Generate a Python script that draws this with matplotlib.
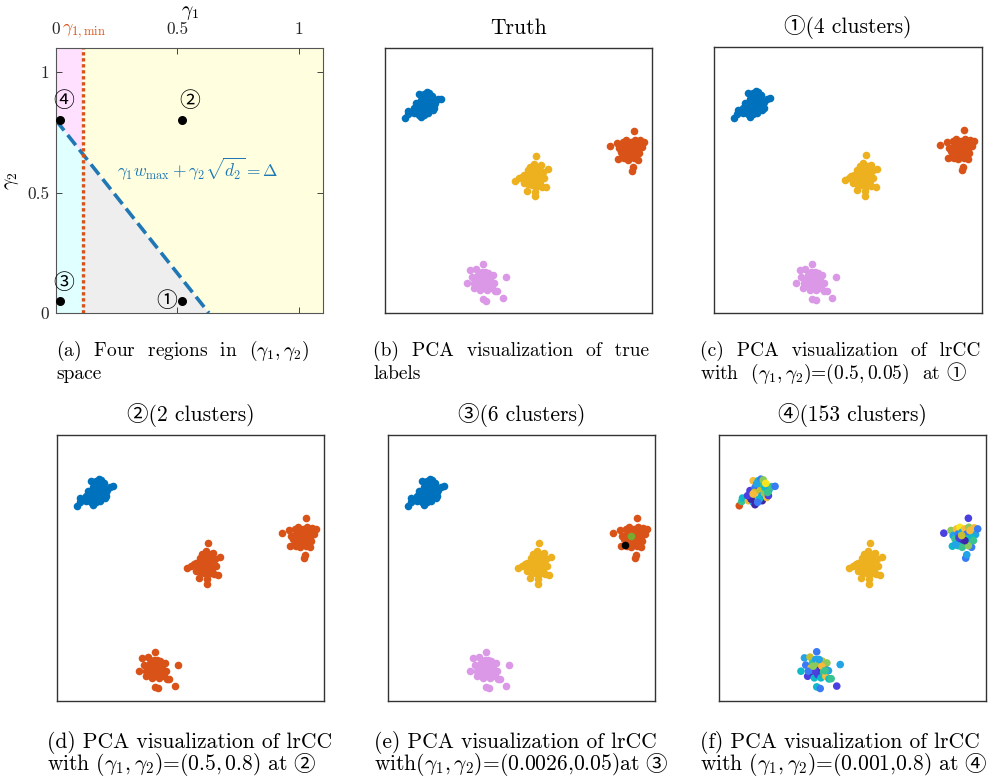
import matplotlib
matplotlib.use("Agg")
import matplotlib.pyplot as plt
import numpy as np

plt.rcParams['font.family'] = ['cmr10', 'Noto Sans CJK JP', 'DejaVu Sans']
plt.rcParams['mathtext.fontset'] = 'cm'
plt.rcParams['axes.unicode_minus'] = False

# ---- panel (a): regions in (gamma1, gamma2) space
g1_min = 0.11          # dotted vertical boundary
line_y0 = 0.8          # dashed line intercept on gamma2 axis
line_x0 = 0.63         # dashed line intercept on gamma1 axis
pts_g1 = [0.52, 0.52, 0.015, 0.015]
pts_g2 = [0.05, 0.8, 0.05, 0.8]
pts_tag = ['①', '②', '③', '④']
tag_g1 = [0.455, 0.55, 0.03, 0.03]
tag_g2 = [0.05, 0.88, 0.125, 0.88]

# ---- PCA scatter data (cluster centroids + point offsets, PC units)
centers = {
    'blue': (1.41, 7.78),
    'orange': (9.15, 6.18),
    'yellow': (5.57, 5.14),
    'lavender': (3.66, 1.22),
}
blue_dx = [-0.65, -0.56, -0.53, -0.31, -0.25, -0.19, -0.13, -0.13, -0.06, -0.06, 0.0, 0.04,
           0.06, 0.09, 0.13, 0.16, 0.19, 0.19, 0.21, 0.29, 0.31, 0.38, 0.44, 0.46,
           0.56, 0.69, -0.09, -0.21, 0.10, 0.25, 0.34, 0.0, -0.34, 0.41, 0.04, -0.13]
blue_dy = [-0.44, -0.28, -0.15, -0.25, 0.13, -0.06, 0.50, -0.31, 0.25, -0.40, -0.13, 0.06,
           0.50, 0.28, 0.15, 0.56, 0.38, -0.06, -0.25, 0.03, 0.25, -0.13, -0.06, 0.15,
           0.28, 0.29, 0.06, -0.19, -0.19, 0.53, 0.40, 0.38, -0.06, 0.06, -0.31, 0.0]
orange_dx = [-0.73, -0.46, -0.38, -0.41, -0.31, -0.25, -0.19, -0.13, -0.09, -0.06, 0.0, 0.04,
             0.06, 0.13, 0.16, 0.19, 0.21, 0.25, 0.31, 0.38, 0.41, 0.46, 0.54, 0.31,
             0.09, 0.13, -0.19, -0.04, 0.19, -0.16, -0.29, 0.25, 0.06, -0.06, 0.38]
orange_dy = [0.13, 0.23, 0.04, -0.36, -0.09, 0.29, 0.10, 0.35, -0.15, 0.16, -0.03, -0.28,
             0.29, 0.10, -0.09, 0.69, 0.35, -0.21, -0.40, 0.16, 0.33, 0.08, 0.29, -0.03,
             -0.81, -0.68, -0.34, -0.40, -0.34, -0.05, -0.30, 0.23, -0.15, 0.04, -0.15]
yellow_dx = [-0.70, -0.54, -0.45, -0.35, -0.38, -0.25, -0.23, -0.20, -0.16, -0.13, -0.10, -0.08,
             -0.04, 0.0, 0.03, 0.05, 0.05, 0.09, 0.09, 0.13, 0.15, 0.18, 0.21, 0.25,
             0.28, 0.30, 0.34, 0.38, 0.46, 0.53, -0.04, 0.09, -0.23, 0.21, -0.10, -0.29]
yellow_dy = [-0.15, -0.06, 0.0, 0.06, -0.25, -0.53, 0.25, -0.06, 0.13, 0.38, -0.19, -0.31,
             0.06, 0.50, -0.13, -0.73, -0.56, 0.79, 0.25, 0.0, -0.31, 0.38, 0.13, -0.19,
             0.44, -0.38, 0.19, -0.06, -0.40, 0.28, 0.25, -0.38, -0.28, -0.06, 0.0, -0.13]
lav_dx = [-0.59, -0.46, -0.41, -0.34, -0.25, -0.21, -0.16, -0.13, -0.09, -0.04, 0.0, 0.0,
          0.04, 0.06, 0.13, 0.16, 0.21, 0.25, 0.29, 0.34, 0.38, 0.44, 0.46, 0.54,
          0.88, 0.75, 0.0, 0.13, -0.19, 0.19, -0.06, 0.09, -0.31, 0.31, -0.13]
lav_dy = [-0.10, 0.40, 0.13, -0.29, 0.43, 0.03, 0.21, -0.16, -0.35, 0.34, 0.63, 0.03,
          -0.23, 0.18, -0.04, -0.35, 0.28, -0.13, 0.09, -0.29, 0.21, -0.08, -0.39, -0.38,
          0.15, -0.66, -0.69, -0.75, -0.04, 0.09, -0.10, 0.34, -0.10, -0.08, 0.09]

offsets = {
    'blue': (blue_dx, blue_dy),
    'orange': (orange_dx, orange_dy),
    'yellow': (yellow_dx, yellow_dy),
    'lavender': (lav_dx, lav_dy),
}

C_BLUE = '#0072BD'
C_ORANGE = '#D95319'
C_YELLOW = '#EDB120'
C_LAV = '#DA98E6'
C_GREEN = '#77AC30'

# colour of each true cluster in each panel
panel_colors = {
    'b': {'blue': C_BLUE, 'orange': C_ORANGE, 'yellow': C_YELLOW, 'lavender': C_LAV},
    'c': {'blue': C_BLUE, 'orange': C_ORANGE, 'yellow': C_YELLOW, 'lavender': C_LAV},
    'd': {'blue': C_BLUE, 'orange': C_ORANGE, 'yellow': C_ORANGE, 'lavender': C_ORANGE},
    'e': {'blue': C_BLUE, 'orange': C_ORANGE, 'yellow': C_YELLOW, 'lavender': C_LAV},
}
# (e): two orange points split off into their own clusters
e_black_idx = 30
e_green_idx = 33

# (f): many tiny clusters, colours from a parula-like palette
parula = ['#3E26A8', '#4A3FE0', '#3A7BF5', '#22A4E6', '#0FBAC8', '#38C391',
          '#8CCA5A', '#C8BF30', '#F7BA3C', '#F8E51E', '#D95319']
f_blue_lab = [10, 5, 4, 8, 1, 7, 8, 3, 2, 0, 6, 9, 4, 1, 7, 2, 5, 3,
              0, 6, 4, 8, 1, 3, 5, 2, 7, 0, 4, 6, 9, 3, 1, 5, 2, 8]
f_orange_lab = [1, 6, 3, 4, 5, 8, 2, 9, 0, 3, 9, 1, 8, 2, 5, 1, 6, 4,
                2, 7, 8, 3, 2, 4, 2, 3, 4, 5, 6, 1, 3, 8, 0, 7, 5]
f_lav_lab = [4, 3, 2, 1, 7, 8, 5, 0, 4, 3, 2, 3, 1, 6, 0, 4, 7, 5,
             1, 8, 6, 3, 4, 5, 3, 1, 4, 2, 9, 8, 1, 3, 2, 5, 6]

fig = plt.figure(figsize=(9.98, 7.77), dpi=100)
W, H = 998.0, 777.0


def px_axes(l, t, r, b):
    return fig.add_axes([l / W, 1 - b / H, (r - l) / W, (b - t) / H])


def cluster_xy(name):
    cx, cy = centers[name]
    dx, dy = offsets[name]
    return cx + np.array(dx), cy + np.array(dy)


def style_scatter_ax(ax):
    ax.set_xlim(0, 10)
    ax.set_ylim(0, 10)
    ax.set_xticks([])
    ax.set_yticks([])
    for s in ax.spines.values():
        s.set_color('#333333')
        s.set_linewidth(1.0)


MS = 30

# ---------------- (a)
ax = px_axes(56, 48, 323, 313)
ax_a = ax
yl = line_y0 * (1 - g1_min / line_x0)
ax.fill([0, g1_min, g1_min, 0], [line_y0, yl, 1.1, 1.1], color='#FFE0FF', lw=0)
ax.fill([0, g1_min, g1_min, 0], [0, 0, yl, line_y0], color='#E0FFFF', lw=0)
ax.fill([g1_min, line_x0, g1_min], [0, 0, yl], color='#EEEEEE', lw=0)
ax.fill([g1_min, line_x0, 1.1, 1.1, g1_min], [yl, 0, 0, 1.1, 1.1], color='#FFFFE0', lw=0)
ax.plot([0, line_x0], [line_y0, 0], color='#1F77B4', lw=2.6, dashes=(3.6, 1.6))
ax.plot([g1_min, g1_min], [0, 1.1], color=C_ORANGE, lw=2.4, dashes=(1.0, 0.8))
ax.scatter(pts_g1, pts_g2, s=30, color='k', zorder=5)
for x, y, t in zip(tag_g1, tag_g2, pts_tag):
    ax.text(x, y, t, fontsize=15, ha='center', va='center')
ax.text(0.25, 0.6, r'$\gamma_1 w_{\max} + \gamma_2\sqrt{d_2} = \Delta$', color='#1F77B4',
        fontsize=12.5, ha='left', va='center')
ax.text(g1_min + 0.005, 1.135, r'$\gamma_{1,\min}$', color=C_ORANGE, fontsize=13,
        ha='center', va='bottom')
ax.set_xlim(0, 1.1)
ax.set_ylim(0, 1.1)
ax.set_xticks([0, 0.5, 1])
ax.set_xticklabels(['0', '0.5', '1'])
ax.set_yticks([0, 0.5, 1])
ax.set_yticklabels(['0', '0.5', '1'])
ax.xaxis.tick_top()
ax.xaxis.set_label_position('top')
ax.tick_params(direction='in', length=4, width=0.6, top=True, bottom=True, left=True,
               right=True, labeltop=True, labelbottom=False, labelsize=12.5, colors='#262626',
               pad=5)
ax.tick_params(axis='x', pad=8)
ax.set_xlabel(r'$\gamma_1$', fontsize=14, labelpad=5)
ax.set_ylabel(r'$\gamma_2$', fontsize=14, labelpad=4)
for s in ax.spines.values():
    s.set_color('#555555')
    s.set_linewidth(0.8)

# ---------------- (b), (c), (d), (e)
boxes = {
    'b': (385, 48, 652, 313),
    'c': (714, 47, 982, 313),
    'd': (57, 435, 324, 701),
    'e': (388, 435, 655, 701),
    'f': (719, 435, 986, 701),
}
titles = {
    'b': 'Truth',
    'c': '①(4 clusters)',
    'd': '②(2 clusters)',
    'e': '③(6 clusters)',
    'f': '④(153 clusters)',
}

axes = {}
for key in ['b', 'c', 'd', 'e']:
    ax = px_axes(*boxes[key])
    for name in ['blue', 'orange', 'yellow', 'lavender']:
        x, y = cluster_xy(name)
        ax.scatter(x, y, s=MS, color=panel_colors[key][name], lw=0)
    if key == 'e':
        x, y = cluster_xy('orange')
        ax.scatter([x[e_black_idx]], [y[e_black_idx]], s=MS, color='k', lw=0, zorder=4)
        ax.scatter([x[e_green_idx]], [y[e_green_idx]], s=MS, color=C_GREEN, lw=0, zorder=4)
    style_scatter_ax(ax)
    axes[key] = ax

# ---------------- (f)
ax = px_axes(*boxes['f'])
x, y = cluster_xy('yellow')
ax.scatter(x, y, s=MS, color=C_YELLOW, lw=0)
for name, lab in [('blue', f_blue_lab), ('orange', f_orange_lab), ('lavender', f_lav_lab)]:
    x, y = cluster_xy(name)
    ax.scatter(x, y, s=MS, color=[parula[i] for i in lab], lw=0)
style_scatter_ax(ax)
axes['f'] = ax

for key, (l, t, r, b) in boxes.items():
    fig.text((l + r) / 2 / W, 1 - (t - 20) / H, titles[key], fontsize=15.5,
             ha='center', va='center')

# ---------------- captions (circled marks drawn as separate text so the font fallback works)
captions = [
    (56, 351, 14, '(a)  Four  regions  in  $(\\gamma_1, \\gamma_2)$', 'space', ''),
    (373, 351, 14, '(b)  PCA  visualization  of  true', 'labels', ''),
    (700, 351, 14, '(c)  PCA  visualization  of  lrCC',
     'with  $(\\gamma_1, \\gamma_2)$=$(0.5, 0.05)$  at', '①'),
    (47, 742, 15.5, '(d) PCA visualization of lrCC',
     'with $(\\gamma_1,\\gamma_2)$=$(0.5, 0.8)$ at', '②'),
    (374, 742, 15.5, '(e) PCA visualization of lrCC',
     'with$(\\gamma_1,\\gamma_2)$=$(0.0026{,}0.05)$at', '③'),
    (700, 742, 15.5, '(f) PCA visualization of lrCC',
     'with $(\\gamma_1,\\gamma_2)$=$(0.001{,}0.8)$ at', '④'),
]
for x, y, fs, l1, l2, mark in captions:
    fig.text(x / W, 1 - y / H, l1, fontsize=fs, ha='left', va='center')
    t2 = fig.text(x / W, 1 - (y + 23) / H, l2, fontsize=fs, ha='left', va='center')
    if mark:
        ax_a.annotate(mark, xy=(1, 0.5), xycoords=t2, xytext=(4, 0),
                      textcoords='offset points', fontsize=fs, ha='left', va='center',
                      annotation_clip=False)

fig.savefig('out.png', dpi=100)
